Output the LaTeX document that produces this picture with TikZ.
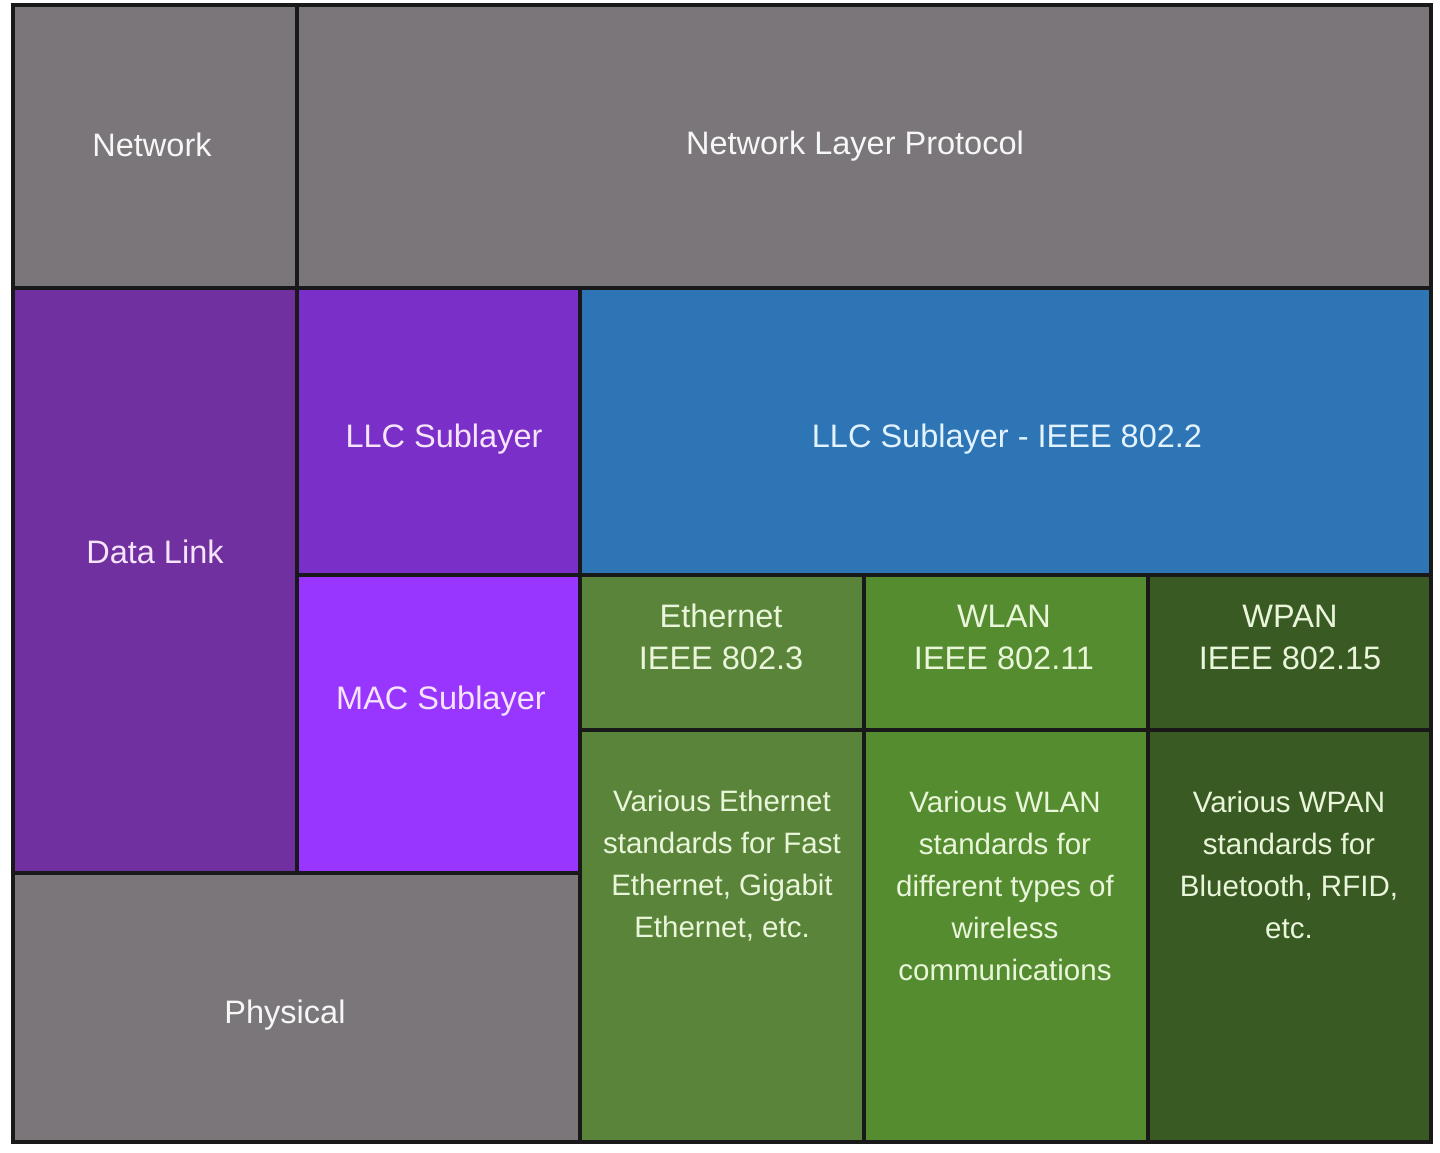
\documentclass[tikz,border=0pt]{standalone}
\usepackage{fontspec}
\setmainfont{Liberation Sans}
\usetikzlibrary{fit}
\definecolor{cgray}{HTML}{7A7679}
\definecolor{cdl}{HTML}{7130A0}
\definecolor{cllc}{HTML}{7B2FC9}
\definecolor{cmac}{HTML}{9836FF}
\definecolor{cblue}{HTML}{2E75B6}
\definecolor{ceth}{HTML}{5B843B}
\definecolor{cwlan}{HTML}{558C30}
\definecolor{cwpan}{HTML}{3A5A24}
\definecolor{tpurple}{HTML}{F6E4FA}
\definecolor{tblue}{HTML}{E2F2FF}
\definecolor{tgreen}{HTML}{E9F6DA}
\tikzset{
  cell/.style={draw=black!90, line width=3.2pt, inner sep=0pt},
  head/.style={font=\fontsize{32.5}{42}\selectfont, align=center, inner sep=0pt},
  body/.style={font=\fontsize{29.5}{42}\selectfont, align=center, inner sep=0pt},
}
\begin{document}
\begin{tikzpicture}[x=1pt,y=-1pt]
\useasboundingbox[fill=white] (0,0) rectangle (1440,1152);
% cells
\node[cell, fill=cgray, fit={(13,5) (297,288)}] (net) {};
\node[cell, fill=cgray, fit={(297,5) (1431,288)}] (nlp) {};
\node[cell, fill=cdl, fit={(13,288) (297,873)}] (dl) {};
\node[cell, fill=cllc, fit={(297,288) (580,575)}] (llc) {};
\node[cell, fill=cblue, fit={(580,288) (1431,575)}] (llc2) {};
\node[cell, fill=cmac, fit={(297,575) (580,873)}] (mac) {};
\node[cell, fill=cgray, fit={(13,873) (580,1142)}] (phy) {};
\node[cell, fill=ceth, fit={(580,575) (864,730)}] (eth) {};
\node[cell, fill=cwlan, fit={(864,575) (1148,730)}] (wlan) {};
\node[cell, fill=cwpan, fit={(1148,575) (1431,730)}] (wpan) {};
\node[cell, fill=ceth, fit={(580,730) (864,1142)}] (ethd) {};
\node[cell, fill=cwlan, fit={(864,730) (1148,1142)}] (wland) {};
\node[cell, fill=cwpan, fit={(1148,730) (1431,1142)}] (wpand) {};
% texts
\node[head, text=white!97!black] (tnet) at (152,145) {Network};
\node[head, text=white!97!black] (tnlp) at (855,146) {Network Layer Protocol};
\node[head, text=tpurple] (tdl) at (155,552) {Data Link};
\node[head, text=tpurple] (tllc) at (444,439) {LLC Sublayer};
\node[head, text=tblue] (tllc2) at (1007,439) {LLC Sublayer - IEEE 802.2};
\node[head, text=tpurple] (tmac) at (441,701) {MAC Sublayer};
\node[head, text=white!97!black] (tphy) at (285,1015) {Physical};
\node[head, text=tgreen] (teth) at (721,637) {Ethernet\\IEEE 802.3};
\node[head, text=tgreen] (twlan) at (1004,637) {WLAN\\IEEE 802.11};
\node[head, text=tgreen] (twpan) at (1290,637) {WPAN\\IEEE 802.15};
\node[body, text=tgreen] (teth2) at (722,866) {Various Ethernet\\standards for Fast\\Ethernet, Gigabit\\Ethernet, etc.};
\node[body, text=tgreen] (twlan2) at (1005,886) {Various WLAN\\standards for\\different types of\\wireless\\communications};
\node[body, text=tgreen] (twpan2) at (1289,865) {Various WPAN\\standards for\\Bluetooth, RFID,\\etc.};
\end{tikzpicture}
\end{document}
